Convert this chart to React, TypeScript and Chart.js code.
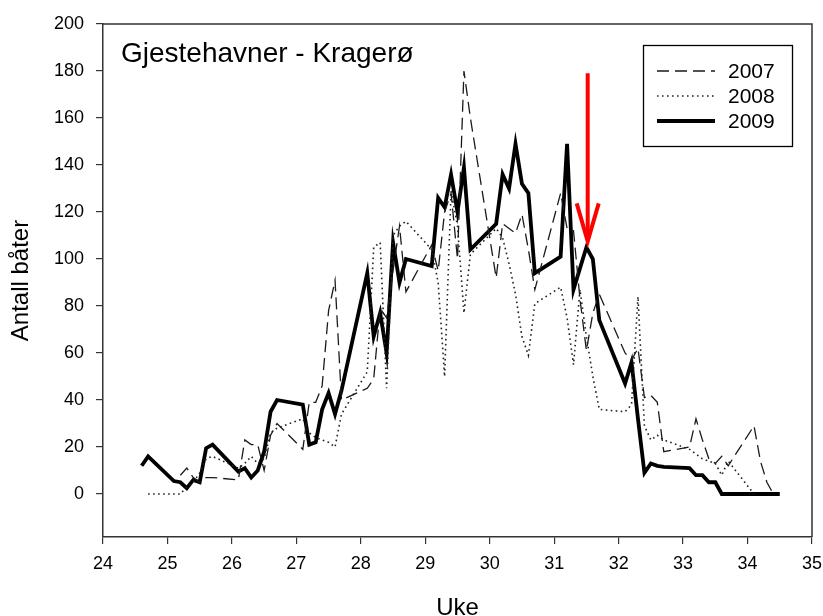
import React, { useEffect, useRef } from "react";
import { Chart, registerables } from "chart.js";

Chart.register(...registerables);

const FONT = "'Liberation Sans', Arial, Helvetica, sans-serif";

const CHART_TITLE = "Gjestehavner - Kragerø";
const X_TITLE = "Uke";
const Y_TITLE = "Antall båter";
const SERIES_LABELS = ["2007", "2008", "2009"];

const X_MIN = 24;
const X_MAX = 35;
const X_STEP = 1;
const Y_MIN = -18.3;
const Y_MAX = 200;
const Y_TICKS = [0, 20, 40, 60, 80, 100, 120, 140, 160, 180, 200];

// week.day (day 1-7)
const WEEKS_2007 = [
  25.2, 25.3, 25.4, 25.5, 25.6, 25.7,
  26.1, 26.2, 26.3, 26.4, 26.5, 26.6, 26.7,
  27.1, 27.2, 27.3, 27.4, 27.5, 27.6, 27.7,
  28.1, 28.2, 28.3, 28.4, 28.5, 28.6, 28.7,
  29.1, 29.2, 29.3, 29.4, 29.5, 29.6, 29.7,
  30.1, 30.2, 30.3, 30.4, 30.5, 30.6, 30.7,
  31.1, 31.2, 31.3, 31.4, 31.5, 31.6, 31.7,
  32.1, 32.2, 32.3, 32.4, 32.5, 32.6, 32.7,
  33.1, 33.2, 33.3, 33.4, 33.5, 33.6, 33.7,
  34.1, 34.2, 34.3, 34.4,
];
const COUNTS_2007 = [
  8, 11, 7, 5, 7, 7,
  6, 23, 21, 21, 10, 25, 30,
  19, 39, 39, 46, 78, 91, 40,
  45, 49, 79, 75, 95, 114, 86,
  106, 95, 120, 128, 100, 180, 160,
  92, 115, 113, 111, 119, 104, 87,
  128, 113, 112, 83, 61, 77, 85,
  60, 57, 62, 41, 42, 39, 18,
  20, 32, 23, 15, 13, 16, 12,
  29, 14, 5, 0,
];

const WEEKS_2008 = [
  24.7,
  25.1, 25.2, 25.3, 25.4, 25.5, 25.6, 25.7,
  26.1, 26.2, 26.3, 26.4, 26.5, 26.6, 26.7,
  27.1, 27.2, 27.3, 27.4, 27.5, 27.6, 27.7,
  28.1, 28.2, 28.3, 28.4, 28.5, 28.6, 28.7,
  29.1, 29.2, 29.3, 29.4, 29.5, 29.6, 29.7,
  30.1, 30.2, 30.3, 30.4, 30.5, 30.6, 30.7,
  31.1, 31.2, 31.3, 31.4, 31.5, 31.6, 31.7,
  32.1, 32.2, 32.3, 32.4, 32.5, 32.6, 32.7,
  33.1, 33.2, 33.3, 33.4, 33.5, 33.6, 33.7,
  34.1,
];
const COUNTS_2008 = [
  0,
  0, 0, 3, 5, 9, 15, 16,
  11, 13, 16, 13, 15, 26, 28,
  32, 26, 24, 23, 22, 20, 34,
  52, 105, 107, 45, 110, 114, 116,
  104, 90, 50, 129, 114, 77, 102,
  113, 109, 98, 85, 67, 59, 81,
  88, 75, 55, 87, 67, 50, 36,
  35, 38, 84, 29, 23, 25, 23,
  19, 17, 15, 14, 13, 8, 14,
  0,
];

const WEEKS_2009 = [
  24.6, 24.7,
  25.1, 25.2, 25.3, 25.4, 25.5, 25.6, 25.7,
  26.1, 26.2, 26.3, 26.4, 26.5, 26.6, 26.7,
  27.1, 27.2, 27.3, 27.4, 27.5, 27.6, 27.7,
  28.1, 28.2, 28.3, 28.4, 28.5, 28.6, 28.7,
  29.1, 29.2, 29.3, 29.4, 29.5, 29.6, 29.7,
  30.1, 30.2, 30.3, 30.4, 30.5, 30.6, 30.7,
  31.1, 31.2, 31.3, 31.4, 31.5, 31.6, 31.7,
  32.1, 32.2, 32.3, 32.4, 32.5, 32.6, 32.7,
  33.1, 33.2, 33.3, 33.4, 33.5, 33.6, 33.7,
  34.1, 34.2, 34.3, 34.4, 34.5,
];
const COUNTS_2009 = [
  12, 16,
  5.5, 5, 2.5, 6, 5, 19.5, 21,
  9.5, 11, 7, 10, 18, 35, 40,
  38, 21, 22, 36, 43, 34, 44,
  94, 67, 77, 60, 107, 90, 100,
  97, 126, 122, 136, 120, 139, 104,
  115, 136, 130, 149, 132, 128, 94,
  101, 149, 87, 96, 105, 100, 74,
  47, 56, 32, 9, 13, 12, 11.5,
  11, 8, 8, 5, 5, 0, 0,
  0, 0, 0, 0, 0,
];

// red arrow annotation (data units)
const ARROW_X = 31.52;
const ARROW_TOP = 179;
const ARROW_TIP = 107.5;

const toPoints = (xs: number[], ys: number[]) => xs.map((x, i) => ({ x, y: ys[i] }));

const overlayPlugin = {
  id: "overlay",
  afterDatasetsDraw(chart: any) {
    const { ctx, chartArea: a, scales } = chart;
    ctx.save();
    // frame top/right
    ctx.strokeStyle = "#333";
    ctx.lineWidth = 1.5;
    ctx.setLineDash([]);
    ctx.beginPath();
    ctx.moveTo(a.left, a.top);
    ctx.lineTo(a.right, a.top);
    ctx.lineTo(a.right, a.bottom);
    ctx.stroke();

    // title inside plot
    ctx.fillStyle = "#000";
    ctx.font = `28px ${FONT}`;
    ctx.textAlign = "left";
    ctx.textBaseline = "alphabetic";
    ctx.fillText(CHART_TITLE, a.left + 18, a.top + 38);

    // legend
    const bw = 149;
    const bh = 101;
    const bx = a.right - 20 - bw;
    const by = a.top + 21;
    ctx.fillStyle = "#fff";
    ctx.fillRect(bx, by, bw, bh);
    ctx.strokeStyle = "#000";
    ctx.lineWidth = 1.3;
    ctx.strokeRect(bx + 0.5, by + 0.5, bw, bh);
    chart.data.datasets.forEach((ds: any, i: number) => {
      const y = by + 26 + i * 25;
      ctx.save();
      ctx.strokeStyle = ds.borderColor;
      ctx.lineWidth = ds.borderWidth;
      ctx.setLineDash(ds.borderDash || []);
      ctx.beginPath();
      ctx.moveTo(bx + 14, y);
      ctx.lineTo(bx + 72, y);
      ctx.stroke();
      ctx.restore();
      ctx.fillStyle = "#000";
      ctx.font = `21px ${FONT}`;
      ctx.textAlign = "left";
      ctx.textBaseline = "middle";
      ctx.fillText(ds.label, bx + 85, y + 1);
    });

    // red arrow
    const px = scales.x.getPixelForValue(ARROW_X);
    const yTop = scales.y.getPixelForValue(ARROW_TOP);
    const yTip = scales.y.getPixelForValue(ARROW_TIP);
    ctx.strokeStyle = "#f00";
    ctx.lineWidth = 4;
    ctx.lineJoin = "miter";
    ctx.beginPath();
    ctx.moveTo(px, yTop);
    ctx.lineTo(px, yTip - 3);
    ctx.stroke();
    ctx.beginPath();
    ctx.moveTo(px - 11, yTip - 38);
    ctx.lineTo(px, yTip);
    ctx.lineTo(px + 11, yTip - 38);
    ctx.stroke();
    ctx.restore();
  },
};

export default function App() {
  const ref = useRef<HTMLCanvasElement | null>(null);

  useEffect(() => {
    if (!ref.current) return;
    const chart = new Chart(ref.current, {
      type: "line",
      data: {
        datasets: [
          {
            label: SERIES_LABELS[0],
            data: toPoints(WEEKS_2007, COUNTS_2007),
            borderColor: "#1a1a1a",
            borderWidth: 1.3,
            borderDash: [12, 6],
            pointRadius: 0,
            fill: false,
            tension: 0,
          },
          {
            label: SERIES_LABELS[1],
            data: toPoints(WEEKS_2008, COUNTS_2008),
            borderColor: "#222",
            borderWidth: 1.6,
            borderDash: [1.6, 3.4],
            pointRadius: 0,
            fill: false,
            tension: 0,
          },
          {
            label: SERIES_LABELS[2],
            data: toPoints(WEEKS_2009, COUNTS_2009),
            borderColor: "#000",
            borderWidth: 3.8,
            pointRadius: 0,
            fill: false,
            tension: 0,
          },
        ],
      },
      options: {
        animation: false,
        responsive: false,
        devicePixelRatio: 1,
        layout: { padding: { top: 24, right: 11, left: 0, bottom: 0 } },
        plugins: { legend: { display: false }, tooltip: { enabled: false } },
        scales: {
          x: {
            type: "linear",
            min: X_MIN,
            max: X_MAX,
            ticks: { stepSize: X_STEP, color: "#000", font: { family: FONT, size: 18 }, padding: 9, maxRotation: 0 },
            grid: { drawOnChartArea: false, drawTicks: true, tickLength: 7, color: "#333", lineWidth: 1.2 },
            border: { display: true, color: "#333", width: 1.5 },
            title: {
              display: true,
              text: X_TITLE,
              color: "#000",
              font: { family: FONT, size: 24, lineHeight: 1 },
              padding: { top: 0, bottom: -4 },
            },
            afterFit: (s: any) => {
              s.height = 79;
              s.paddingLeft = 0;
              s.paddingRight = 0;
            },
          },
          y: {
            type: "linear",
            min: Y_MIN,
            max: Y_MAX,
            afterBuildTicks: (s: any) => {
              s.ticks = Y_TICKS.map((v) => ({ value: v }));
            },
            ticks: { color: "#000", font: { family: FONT, size: 18 }, padding: 12 },
            grid: { drawOnChartArea: false, drawTicks: true, tickLength: 7, color: "#333", lineWidth: 1.2 },
            border: { display: true, color: "#333", width: 1.5 },
            title: {
              display: true,
              text: Y_TITLE,
              color: "#000",
              font: { family: FONT, size: 24, lineHeight: 1.2 },
              padding: { top: 7, bottom: 0 },
            },
            afterFit: (s: any) => {
              s.width = 103;
              s.paddingTop = 0;
              s.paddingBottom = 0;
            },
          },
        },
      },
      plugins: [overlayPlugin],
    } as any);
    return () => chart.destroy();
  }, []);

  return (
    <div style={{ position: "absolute", left: 0, top: 0, width: 823, height: 616, background: "#fff" }}>
      <canvas ref={ref} width={823} height={616} style={{ display: "block" }} />
    </div>
  );
}
